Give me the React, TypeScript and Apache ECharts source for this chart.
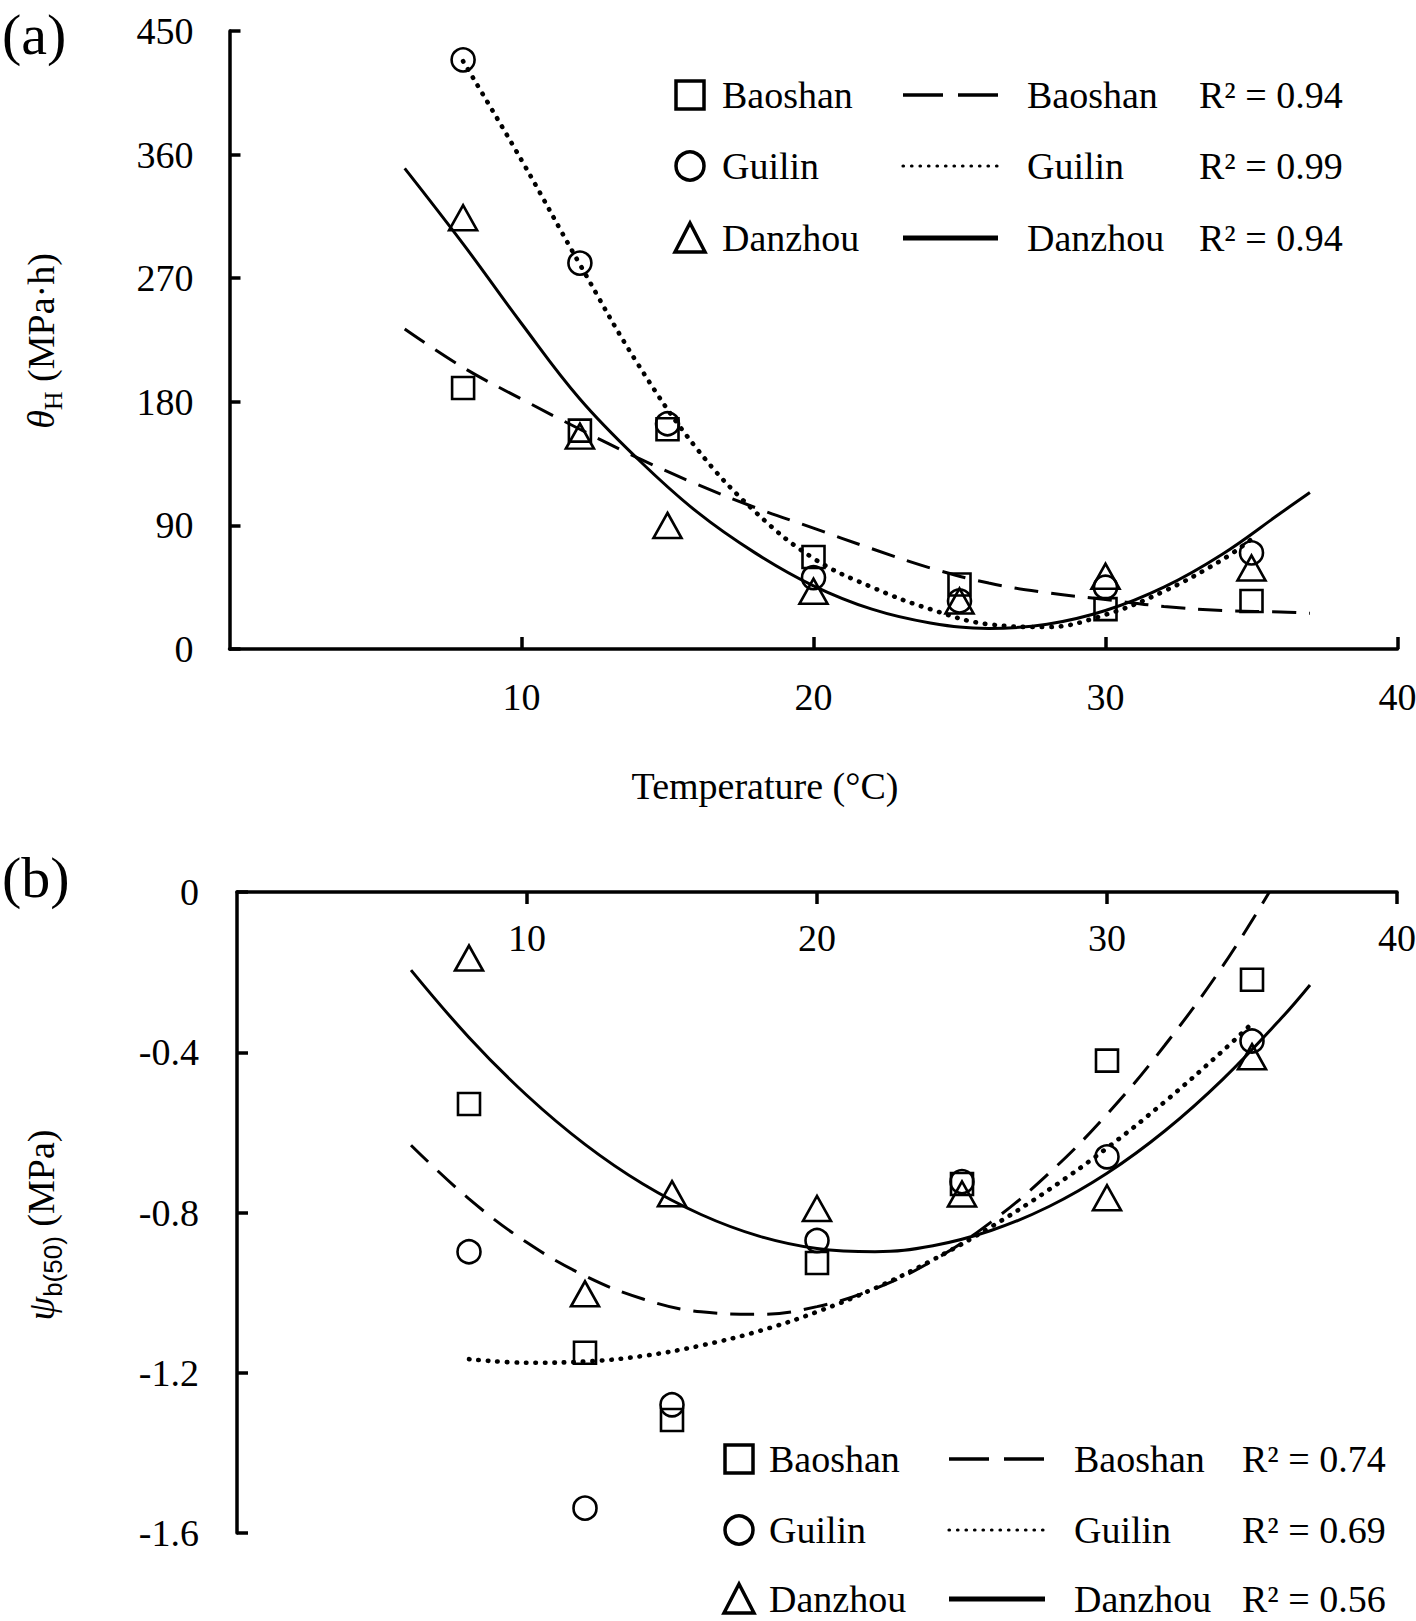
import React, { useEffect, useRef } from "react";
import * as echarts from "echarts";

// ---------- data ----------
const temps = [8, 12, 15, 20, 25, 30, 35];

// panel (a): theta_H (MPa·h)
const baoshanTheta = [190, 159, 160, 67, 47, 29, 35];
const guilinTheta = [429, 281, 164, 52, 35, 45, 70];
const danzhouTheta = [314, 155, 90, 42, 35, 53, 59];

// fitted curves (a)
const fitXA = [6, 8, 10, 12, 14, 16, 18, 20, 22, 24, 26, 28, 30, 32, 34, 36, 37];
const baoshanFitA = [233, 205, 182, 160, 139, 120, 103, 88, 73, 59, 48, 41, 36, 31, 28, 27, 26];
const danzhouFitA = [350, 295, 237, 182, 138, 100, 70, 46, 29, 19, 15, 18, 28, 45, 69, 99, 114];
const fitXGuilinA = [8, 10, 12, 14, 16, 18, 20, 22, 24, 26, 28, 30, 32, 34, 35];
const guilinFitA = [428, 356, 280, 207, 146, 100, 66, 45, 29, 18, 16, 25, 42, 65, 80];

// panel (b): psi_b(50) (MPa)
const baoshanPsi = [-0.529, -1.15, -1.318, -0.926, -0.729, -0.421, -0.219];
const guilinPsi = [-0.898, -1.538, -1.28, -0.87, -0.723, -0.661, -0.372];
const danzhouPsi = [-0.165, -1.003, -0.753, -0.79, -0.754, -0.763, -0.411];

// fitted curves (b)
const fitXB = [6, 8, 10, 12, 14, 16, 18, 20, 22, 24, 26, 28, 30, 32, 34, 36, 37];
const danzhouFitB = [-0.195, -0.363, -0.508, -0.63, -0.729, -0.805, -0.859, -0.89, -0.898, -0.883, -0.845, -0.785, -0.702, -0.596, -0.467, -0.316, -0.232];
const fitXBaoshanB = [6, 8, 10, 12, 14, 16, 18, 20, 22, 24, 26, 28, 30, 32, 34, 35.6];
const baoshanFitB = [-0.632, -0.766, -0.875, -0.958, -1.016, -1.048, -1.054, -1.035, -0.99, -0.92, -0.824, -0.702, -0.555, -0.382, -0.184, 0];
const fitXGuilinB = [8, 10, 12, 14, 16, 18, 20, 22, 24, 26, 28, 30, 32, 34, 35];
const guilinFitB = [-1.166, -1.175, -1.172, -1.158, -1.132, -1.096, -1.048, -0.989, -0.918, -0.836, -0.743, -0.639, -0.523, -0.396, -0.328];

const siteNames = ["Baoshan", "Guilin", "Danzhou"];
const r2A = ["R\u00b2 = 0.94", "R\u00b2 = 0.99", "R\u00b2 = 0.94"];
const r2B = ["R\u00b2 = 0.74", "R\u00b2 = 0.69", "R\u00b2 = 0.56"];

// ---------- styling ----------
const FONT = "'Liberation Serif', 'Times New Roman', serif";
const SANS = "'Liberation Sans', Arial, sans-serif";
const FS = 38;

const zip = (xs: number[], ys: number[]) => xs.map((x, i) => [x, ys[i]]);

const markerStyle = { color: "rgba(0,0,0,0)", borderColor: "#000", borderWidth: 2.6, opacity: 1 };
const symbolDefs = [
  { symbol: "rect", size: 22 },
  { symbol: "circle", size: 23 },
  { symbol: "triangle", size: [28, 25] },
];
const lineDefs = [
  { type: [24, 13], width: 3, cap: "butt" },
  { type: [0.5, 9], width: 4.6, cap: "round" },
  { type: "solid", width: 3, cap: "butt" },
];

function scatter(name: string, idx: number, data: number[], k: number) {
  return {
    type: "scatter",
    name,
    xAxisIndex: idx,
    yAxisIndex: idx,
    data: zip(temps, data),
    symbol: symbolDefs[k].symbol,
    symbolSize: symbolDefs[k].size,
    itemStyle: markerStyle,
    silent: true,
    z: 3,
  };
}

function fitLine(name: string, idx: number, xs: number[], ys: number[], k: number) {
  return {
    type: "line",
    name,
    xAxisIndex: idx,
    yAxisIndex: idx,
    data: zip(xs, ys),
    smooth: 0.4,
    showSymbol: false,
    symbol: "none",
    lineStyle: { color: "#000", width: lineDefs[k].width, type: lineDefs[k].type, cap: lineDefs[k].cap },
    silent: true,
    z: 2,
  };
}

function legendBlock(symX: number, textX: number, lx1: number, lx2: number, labelX: number, r2X: number, ys: number[], r2: string[]) {
  const els: any[] = [];
  const st = { fill: "none", stroke: "#000", lineWidth: 3.5 };
  ys.forEach((y, i) => {
    if (i === 0) els.push({ type: "rect", shape: { x: symX - 14, y: y - 14, width: 28, height: 28 }, style: st });
    if (i === 1) els.push({ type: "circle", shape: { cx: symX, cy: y, r: 14 }, style: st });
    if (i === 2)
      els.push({ type: "polygon", shape: { points: [[symX, y - 15], [symX + 15, y + 14], [symX - 15, y + 14]] }, style: st });
    els.push({ type: "text", x: textX, y, style: { text: siteNames[i], fontFamily: FONT, fontSize: FS, fill: "#000", align: "left", verticalAlign: "middle" } });
    const ls: any = { stroke: "#000" };
    if (i === 0) Object.assign(ls, { lineWidth: 3.5, lineDash: [40, 15] });
    if (i === 1) Object.assign(ls, { lineWidth: 3.2, lineDash: [0.5, 8], lineCap: "round" });
    if (i === 2) Object.assign(ls, { lineWidth: 5 });
    els.push({ type: "line", shape: { x1: lx1, y1: y, x2: lx2, y2: y }, style: ls });
    els.push({ type: "text", x: labelX, y, style: { text: siteNames[i], fontFamily: FONT, fontSize: FS, fill: "#000", align: "left", verticalAlign: "middle" } });
    els.push({ type: "text", x: r2X, y, style: { text: r2[i], fontFamily: FONT, fontSize: FS, fill: "#000", align: "left", verticalAlign: "middle" } });
  });
  return els;
}

const axisLine = { show: true, onZero: false, lineStyle: { color: "#000", width: 3.5 } };
const tickStyle = { color: "#000", width: 3.5 };
const labelBase = { color: "#000", fontFamily: FONT, fontSize: FS };

const option: any = {
  animation: false,
  backgroundColor: "#fff",
  grid: [
    { left: 229.5, right: 18.5, top: 31, height: 618, outerBoundsMode: "none", containLabel: false },
    { left: 237, right: 19, top: 892, height: 641, outerBoundsMode: "none", containLabel: false },
  ],
  xAxis: [
    {
      gridIndex: 0, type: "value", min: 0, max: 40, interval: 10, position: "bottom",
      axisLine, axisTick: { show: true, inside: true, length: 12, lineStyle: tickStyle },
      axisLabel: { ...labelBase, margin: 29, showMinLabel: false, showMaxLabel: true },
      splitLine: { show: false },
    },
    {
      gridIndex: 1, type: "value", min: 0, max: 40, interval: 10, position: "top",
      axisLine, axisTick: { show: true, inside: true, length: 12, lineStyle: tickStyle },
      axisLabel: { ...labelBase, inside: true, margin: 27, showMinLabel: false, showMaxLabel: true },
      splitLine: { show: false },
    },
  ],
  yAxis: [
    {
      gridIndex: 0, type: "value", min: 0, max: 450, interval: 90,
      axisLine, axisTick: { show: true, inside: true, length: 11, lineStyle: tickStyle },
      axisLabel: { ...labelBase, margin: 36, showMinLabel: true, showMaxLabel: true },
      splitLine: { show: false },
    },
    {
      gridIndex: 1, type: "value", min: -1.6, max: 0, interval: 0.4,
      axisLine, axisTick: { show: true, inside: true, length: 11, lineStyle: tickStyle },
      axisLabel: {
        ...labelBase, margin: 38, showMinLabel: true, showMaxLabel: true,
        formatter: (v: number) => (Math.abs(v) < 1e-9 ? "0" : v.toFixed(1)),
      },
      splitLine: { show: false },
    },
  ],
  series: [
    fitLine("Baoshan fit", 0, fitXA, baoshanFitA, 0),
    fitLine("Guilin fit", 0, fitXGuilinA, guilinFitA, 1),
    fitLine("Danzhou fit", 0, fitXA, danzhouFitA, 2),
    scatter("Baoshan", 0, baoshanTheta, 0),
    scatter("Guilin", 0, guilinTheta, 1),
    scatter("Danzhou", 0, danzhouTheta, 2),
    fitLine("Baoshan fit", 1, fitXBaoshanB, baoshanFitB, 0),
    fitLine("Guilin fit", 1, fitXGuilinB, guilinFitB, 1),
    fitLine("Danzhou fit", 1, fitXB, danzhouFitB, 2),
    scatter("Baoshan", 1, baoshanPsi, 0),
    scatter("Guilin", 1, guilinPsi, 1),
    scatter("Danzhou", 1, danzhouPsi, 2),
  ],
  graphic: [
    { type: "text", x: 2, y: 34, style: { text: "(a)", fontFamily: FONT, fontSize: 58, fill: "#000", align: "left", verticalAlign: "middle" } },
    { type: "text", x: 2, y: 877, style: { text: "(b)", fontFamily: FONT, fontSize: 58, fill: "#000", align: "left", verticalAlign: "middle" } },
    { type: "text", x: 765, y: 786, style: { text: "Temperature (\u00b0C)", fontFamily: FONT, fontSize: FS, fill: "#000", align: "center", verticalAlign: "middle" } },
    {
      type: "text", x: 41, y: 341, rotation: Math.PI / 2,
      style: {
        text: "{i|\u03b8}{s|H}{n| (MPa\u00b7h)}", align: "center", verticalAlign: "middle", fill: "#000",
        rich: {
          i: { fontFamily: FONT, fontSize: FS, fontStyle: "italic", lineHeight: 50, fill: "#000" },
          s: { fontFamily: FONT, fontSize: 26, verticalAlign: "bottom", fill: "#000" },
          n: { fontFamily: FONT, fontSize: FS, lineHeight: 50, fill: "#000" },
        },
      },
    },
    {
      type: "text", x: 41, y: 1225, rotation: Math.PI / 2,
      style: {
        text: "{i|\u03c8}{s|b(50)}{n| (MPa)}", align: "center", verticalAlign: "middle", fill: "#000",
        rich: {
          i: { fontFamily: FONT, fontSize: FS, fontStyle: "italic", lineHeight: 50, fill: "#000" },
          s: { fontFamily: SANS, fontSize: 26, verticalAlign: "bottom", fill: "#000" },
          n: { fontFamily: FONT, fontSize: FS, lineHeight: 50, fill: "#000" },
        },
      },
    },
    ...legendBlock(690, 722, 903, 998, 1027, 1199, [95, 166, 238], r2A),
    ...legendBlock(739, 769, 949, 1045, 1074, 1242, [1459, 1530, 1599], r2B),
  ],
};

export default function App() {
  const ref = useRef<HTMLDivElement>(null);
  useEffect(() => {
    document.body.style.margin = "0";
    const chart = echarts.init(ref.current!, null, { renderer: "svg" });
    chart.setOption(option);
    return () => chart.dispose();
  }, []);
  return <div ref={ref} style={{ width: 1416, height: 1621 }} />;
}
